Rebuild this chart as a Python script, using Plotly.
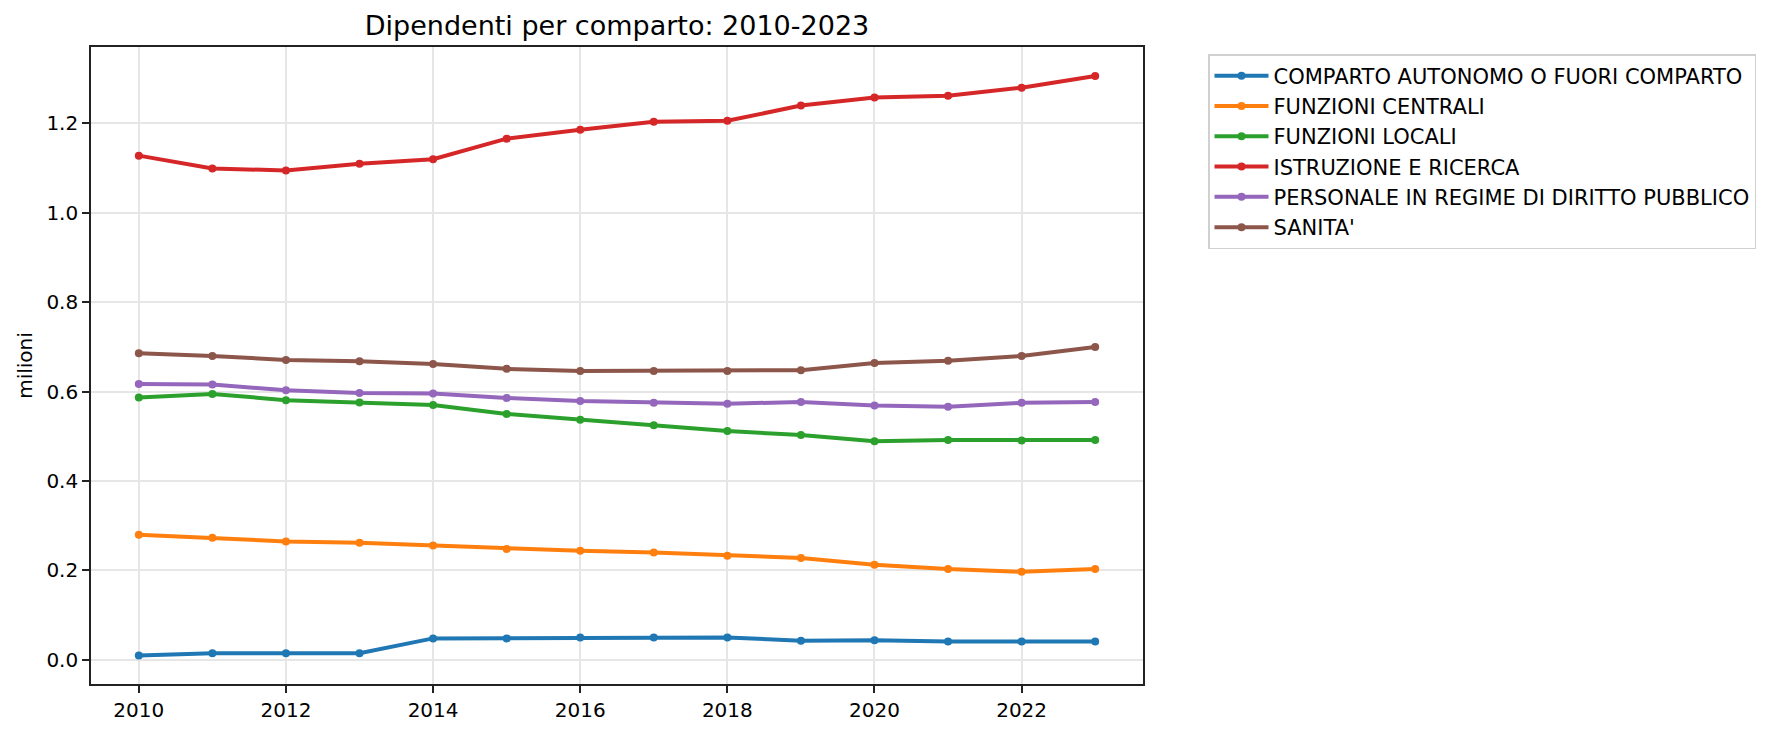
import plotly.graph_objects as go

years = list(range(2010, 2024))

comparto_autonomo = [0.010, 0.015, 0.015, 0.015, 0.048, 0.048, 0.050, 0.050, 0.050, 0.043, 0.044, 0.041, 0.041, 0.041]
funzioni_centrali = [0.280, 0.273, 0.265, 0.262, 0.256, 0.248, 0.244, 0.240, 0.233, 0.228, 0.213, 0.203, 0.197, 0.203]
funzioni_locali = [0.587, 0.595, 0.581, 0.576, 0.570, 0.550, 0.537, 0.525, 0.512, 0.503, 0.489, 0.492, 0.491, 0.492]
istruzione_ricerca = [1.128, 1.099, 1.095, 1.110, 1.120, 1.166, 1.186, 1.204, 1.206, 1.240, 1.258, 1.262, 1.280, 1.306]
personale_dp = [0.617, 0.616, 0.603, 0.597, 0.596, 0.586, 0.579, 0.575, 0.573, 0.577, 0.569, 0.566, 0.575, 0.577]
sanita = [0.686, 0.680, 0.671, 0.668, 0.662, 0.651, 0.646, 0.646, 0.646, 0.648, 0.664, 0.669, 0.680, 0.700]

series_names = [
    "COMPARTO AUTONOMO O FUORI COMPARTO",
    "FUNZIONI CENTRALI",
    "FUNZIONI LOCALI",
    "ISTRUZIONE E RICERCA",
    "PERSONALE IN REGIME DI DIRITTO PUBBLICO",
    "SANITA'",
]
series_values = [comparto_autonomo, funzioni_centrali, funzioni_locali,
                 istruzione_ricerca, personale_dp, sanita]
colors = ["#1f77b4", "#ff7f0e", "#2ca02c", "#d62728", "#9467bd", "#8c564b"]

W, H = 1767, 735
L, R, T, B = 91, 1144, 47, 684
FONT = "DejaVu Sans"

fig = go.Figure()
for name, vals, col in zip(series_names, series_values, colors):
    fig.add_trace(go.Scatter(
        x=years, y=vals, name=name, mode="lines+markers",
        line=dict(color=col, width=4),
        marker=dict(color=col, size=8),
        legendgroup=name,
    ))

fig.update_layout(
    width=W, height=H,
    margin=dict(l=L, r=W - R, t=T, b=H - B, pad=0),
    paper_bgcolor="white", plot_bgcolor="white",
    font=dict(family=FONT, size=20, color="black"),
    title=dict(text="Dipendenti per comparto: 2010-2023", x=0.5, xref="paper",
               xanchor="center", y=1 - 26 / H, yref="container", yanchor="middle",
               font=dict(family=FONT, size=27, color="black")),
    showlegend=True,
    legend=dict(
        x=(1208 - L) / (R - L), xanchor="left",
        y=(B - 54) / (B - T), yanchor="top",
        bordercolor="#d0d0d0", borderwidth=1.5, bgcolor="white",
        font=dict(family=FONT, size=21, color="black"),
        tracegroupgap=0, itemwidth=54,
    ),
)
fig.update_xaxes(
    range=[2009.35, 2023.65], tickmode="linear", tick0=2010, dtick=2,
    showgrid=True, gridcolor="#e6e6e6", gridwidth=1.5,
    showline=True, linecolor="#222222", linewidth=1.6, mirror=True,
    ticks="outside", ticklen=7, tickwidth=1.6, tickcolor="#222222",
    zeroline=False, tickfont=dict(family=FONT, size=20, color="black"),
)
fig.update_yaxes(
    range=[-0.054, 1.371], tickmode="linear", tick0=0, dtick=0.2, tickformat=".1f",
    showgrid=True, gridcolor="#e6e6e6", gridwidth=1.5,
    showline=True, linecolor="#222222", linewidth=1.6, mirror=True,
    ticks="outside", ticklen=7, tickwidth=1.6, tickcolor="#222222",
    zeroline=False, tickfont=dict(family=FONT, size=20, color="black"),
    title=dict(text="milioni", font=dict(family=FONT, size=20, color="black"), standoff=8),
)

fig.write_html("out.html")
